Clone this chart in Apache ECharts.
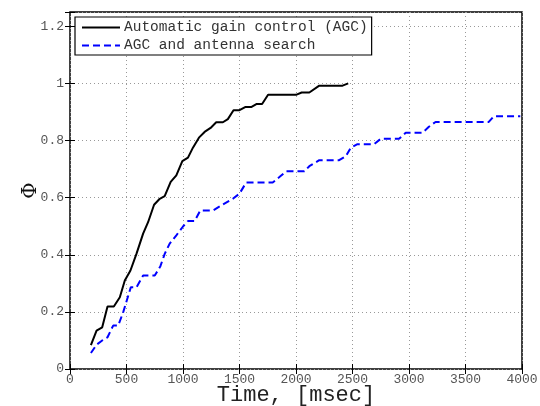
<!DOCTYPE html>
<html>
<head>
<meta charset="utf-8">
<script src="https://cdn.jsdelivr.net/npm/echarts@6/dist/echarts.min.js"></script>
<style>
  html, body { margin: 0; padding: 0; background: #fff; }
  #chart { width: 540px; height: 406px; }
</style>
</head>
<body>
<div id="chart"></div>
<script>
// Success probability vs. elapsed time for the two acquisition schemes
const agcTime = [185, 235, 285, 332, 388, 441, 485, 535, 588, 647, 691, 744, 794, 838, 891, 941, 994, 1044, 1088, 1141, 1191, 1244, 1294, 1353, 1397, 1447, 1500, 1550, 1603, 1653, 1700, 1753, 2000, 2050, 2118, 2206, 2412, 2462];
const agcPhi  = [0.084, 0.134, 0.146, 0.219, 0.219, 0.251, 0.31, 0.345, 0.403, 0.474, 0.514, 0.575, 0.596, 0.605, 0.655, 0.678, 0.728, 0.74, 0.775, 0.81, 0.83, 0.844, 0.864, 0.864, 0.875, 0.906, 0.906, 0.917, 0.917, 0.928, 0.928, 0.96, 0.96, 0.968, 0.968, 0.992, 0.992, 1.0];

const searchTime = [185, 235, 285, 332, 382, 426, 471, 538, 588, 647, 750, 800, 838, 882, 941, 1000, 1044, 1103, 1153, 1265, 1353, 1441, 1500, 1559, 1794, 1853, 1912, 2074, 2118, 2206, 2382, 2441, 2485, 2544, 2691, 2750, 2912, 2971, 3118, 3176, 3235, 3706, 3750, 3985];
const searchPhi  = [0.056, 0.085, 0.1, 0.111, 0.152, 0.152, 0.199, 0.286, 0.286, 0.327, 0.327, 0.36, 0.403, 0.439, 0.468, 0.499, 0.518, 0.518, 0.555, 0.555, 0.576, 0.596, 0.614, 0.653, 0.653, 0.672, 0.692, 0.692, 0.71, 0.731, 0.731, 0.745, 0.775, 0.787, 0.787, 0.806, 0.806, 0.827, 0.827, 0.848, 0.865, 0.865, 0.885, 0.885];

const seriesNames = ['Automatic gain control (AGC)', 'AGC and antenna search'];
const xTitle = 'Time, [msec]';
const yTitle = '\u03A6';

const pair = (xs, ys) => xs.map((x, i) => [x, ys[i]]);

const mono = '"Liberation Mono", "DejaVu Sans Mono", monospace';
const gridLine = { show: true, lineStyle: { color: '#999', type: [1, 3], width: 1 } };
const innerTick = { show: true, inside: true, length: 5, lineStyle: { color: '#000' } };

const chart = echarts.init(document.getElementById('chart'));
chart.setOption({
  animation: false,
  backgroundColor: '#fff',
  grid: {
    left: 70, top: 12, right: 18, bottom: 37,
    outerBoundsMode: 'none', containLabel: false,
    show: true, borderColor: '#000', borderWidth: 1.5, backgroundColor: 'transparent'
  },
  legend: {
    left: 75, top: 17,
    orient: 'vertical',
    itemWidth: 38, itemHeight: 12, itemGap: 3,
    padding: [3, 4, 2, 6],
    backgroundColor: '#fff',
    borderColor: '#000', borderWidth: 1.2,
    itemStyle: { opacity: 0 },
    textStyle: { fontFamily: mono, fontSize: 14.5, color: '#333', padding: [0, 0, 0, -1] },
    data: seriesNames
  },
  xAxis: [{
    type: 'value', min: 0, max: 4000, interval: 500,
    axisLine: { show: false },
    axisTick: innerTick,
    axisLabel: { fontFamily: mono, fontSize: 13, color: '#555', margin: 4, formatter: v => String(v) },
    splitLine: gridLine,
    name: xTitle, nameLocation: 'middle', nameGap: 15, nameMoveOverlap: false,
    nameTextStyle: { fontFamily: mono, fontSize: 22, color: '#222' }
  }, {
    type: 'value', min: 0, max: 4000, interval: 500, position: 'top',
    axisLine: { show: false },
    axisTick: innerTick,
    axisLabel: { show: false }, splitLine: { show: false }
  }],
  yAxis: [{
    type: 'value', min: 0, max: 1.25, interval: 0.2,
    axisLine: { show: false },
    axisTick: innerTick,
    axisLabel: {
      fontFamily: mono, fontSize: 13, color: '#555', margin: 6,
      formatter: v => (v > 1.21 ? '' : String(Math.round(v * 10) / 10))
    },
    splitLine: gridLine,
    name: yTitle, nameLocation: 'middle', nameGap: 29, nameRotate: 90, nameMoveOverlap: false,
    nameTextStyle: { fontFamily: '"DejaVu Serif", serif', fontSize: 20, color: '#111' }
  }, {
    type: 'value', min: 0, max: 1.25, interval: 0.2, position: 'right',
    axisLine: { show: false },
    axisTick: innerTick,
    axisLabel: { show: false }, splitLine: { show: false }
  }],
  series: [{
    name: seriesNames[0], type: 'line', showSymbol: false, symbol: 'none',
    lineStyle: { color: '#000', width: 2 }, itemStyle: { color: '#000' },
    data: pair(agcTime, agcPhi)
  }, {
    name: seriesNames[1], type: 'line', showSymbol: false, symbol: 'none',
    lineStyle: { color: '#0000ff', width: 2, type: [7, 4] }, itemStyle: { color: '#0000ff' },
    data: pair(searchTime, searchPhi)
  }]
});
</script>
</body>
</html>
